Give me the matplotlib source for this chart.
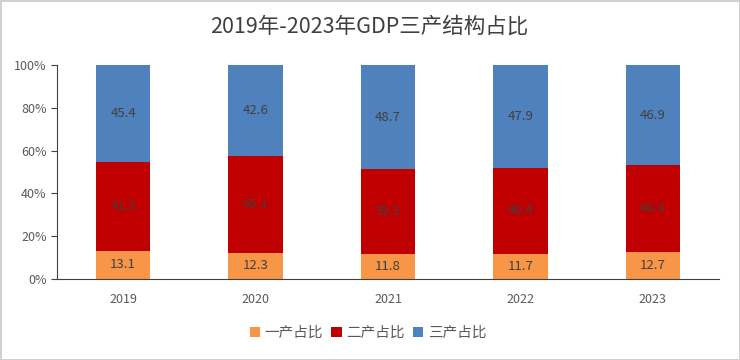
import matplotlib.pyplot as plt
import numpy as np

plt.rcParams['font.family'] = ['Noto Sans CJK SC', 'DejaVu Sans']

years = ['2019', '2020', '2021', '2022', '2023']
primary = [13.1, 12.3, 11.8, 11.7, 12.7]
secondary = [41.5, 45.1, 39.5, 40.4, 40.4]
tertiary = [45.4, 42.6, 48.7, 47.9, 46.9]
names = ['一产占比', '二产占比', '三产占比']
colors = ['#F79646', '#C00000', '#4F81BD']

fig = plt.figure(figsize=(7.4, 3.6), dpi=100)
fig.patch.set_edgecolor('#d0d0d0')
fig.patch.set_linewidth(2)
ax = fig.add_axes([57/740, 1-279/360, 662/740, 214/360])

x = np.arange(len(years))
bottom = np.zeros(len(years))
for vals, name, c in zip([primary, secondary, tertiary], names, colors):
    vals = np.array(vals)
    ax.bar(x, vals, 0.41, bottom=bottom, color=c, label=name)
    for xi, b, v in zip(x, bottom, vals):
        ax.text(xi, b + v/2, f'{v:.1f}', ha='center', va='center',
                fontsize=9.5, color='#404040')
    bottom += vals

ax.set_xlim(-0.5, 4.5)
ax.set_ylim(0, 100)
ax.set_xticks(x)
ax.set_xticklabels(years)
ax.set_yticks(np.arange(0, 101, 20))
ax.set_yticklabels([f'{v}%' for v in range(0, 101, 20)])
ax.tick_params(axis='x', length=0, labelsize=9, colors='#595959', pad=10)
ax.tick_params(axis='y', length=4, labelsize=9, labelcolor='#595959', color='#404040')
for s in ['top', 'right']:
    ax.spines[s].set_visible(False)
ax.spines['left'].set_color('#404040')
ax.spines['bottom'].set_color('#404040')

fig.text(369/740, 1-27/360, '2019年-2023年GDP三产结构占比', ha='center', va='center',
         fontsize=15.5, color='#404040')
fig.legend(loc='center', bbox_to_anchor=(368/740, 1-333/360), ncol=3, frameon=False,
           fontsize=10.5, handlelength=0.7, handleheight=0.7, handletextpad=0.3,
           columnspacing=0.6, labelcolor='#595959')

fig.savefig('out.png', dpi=100)
